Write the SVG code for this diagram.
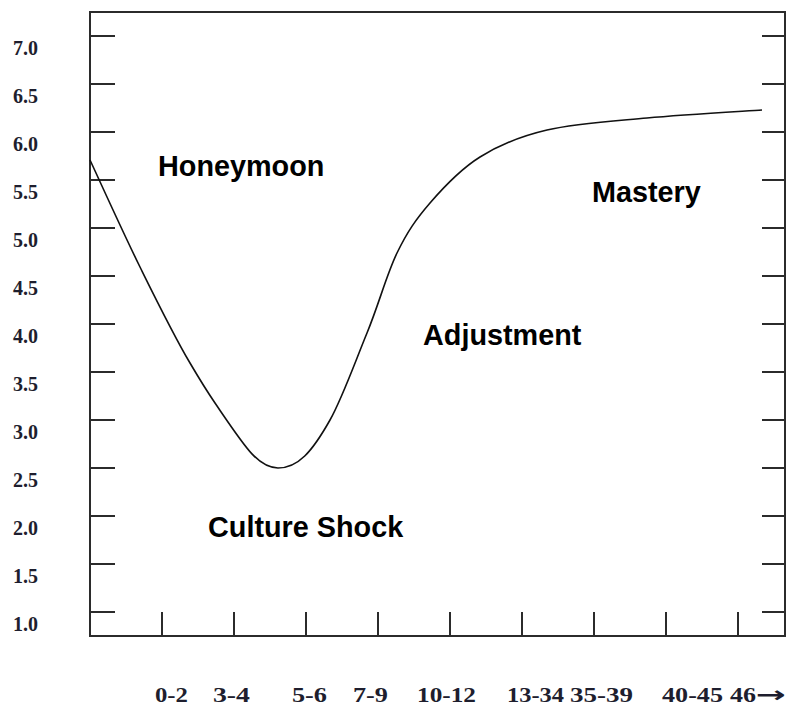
<svg xmlns="http://www.w3.org/2000/svg" width="787" height="706" viewBox="0 0 787 706">
<style>
.ax{stroke:#2b2b2b;stroke-width:2;fill:none}
.tk{stroke:#2b2b2b;stroke-width:2}
.num{font-family:"Liberation Serif","Times New Roman",serif;font-size:20px;font-weight:bold;fill:#1e1e2e}
.arr{font-family:"DejaVu Sans",sans-serif;font-weight:bold;font-size:22px}
.phase{font-family:"Liberation Sans",Arial,sans-serif;font-size:28.8px;font-weight:bold;fill:#000}
.curve{stroke:#111;stroke-width:1.6;fill:none}
</style>
<rect width="787" height="706" fill="#fff"/>
<g id="frame">
<rect class="ax" x="90" y="12" width="695" height="624"/>
</g>
<g id="left-ticks" class="tk">
<line x1="90" y1="36" x2="115" y2="36"/><line x1="90" y1="84" x2="115" y2="84"/><line x1="90" y1="132" x2="115" y2="132"/><line x1="90" y1="180" x2="115" y2="180"/><line x1="90" y1="228" x2="115" y2="228"/><line x1="90" y1="276" x2="115" y2="276"/><line x1="90" y1="324" x2="115" y2="324"/><line x1="90" y1="372" x2="115" y2="372"/><line x1="90" y1="420" x2="115" y2="420"/><line x1="90" y1="468" x2="115" y2="468"/><line x1="90" y1="516" x2="115" y2="516"/><line x1="90" y1="564" x2="115" y2="564"/><line x1="90" y1="612" x2="115" y2="612"/>
</g>
<g id="right-ticks" class="tk">
<line x1="762" y1="36" x2="785" y2="36"/><line x1="762" y1="84" x2="785" y2="84"/><line x1="762" y1="132" x2="785" y2="132"/><line x1="762" y1="180" x2="785" y2="180"/><line x1="762" y1="228" x2="785" y2="228"/><line x1="762" y1="276" x2="785" y2="276"/><line x1="762" y1="324" x2="785" y2="324"/><line x1="762" y1="372" x2="785" y2="372"/><line x1="762" y1="420" x2="785" y2="420"/><line x1="762" y1="468" x2="785" y2="468"/><line x1="762" y1="516" x2="785" y2="516"/><line x1="762" y1="564" x2="785" y2="564"/><line x1="762" y1="612" x2="785" y2="612"/>
</g>
<g id="bottom-ticks" class="tk">
<line x1="162" y1="612" x2="162" y2="636"/><line x1="234" y1="612" x2="234" y2="636"/><line x1="306" y1="612" x2="306" y2="636"/><line x1="378" y1="612" x2="378" y2="636"/><line x1="450" y1="612" x2="450" y2="636"/><line x1="522" y1="612" x2="522" y2="636"/><line x1="594" y1="612" x2="594" y2="636"/><line x1="666" y1="612" x2="666" y2="636"/><line x1="738" y1="612" x2="738" y2="636"/>
</g>
<g id="y-labels" class="num">
<text x="13" y="55">7.0</text><text x="13" y="103">6.5</text><text x="13" y="151">6.0</text><text x="13" y="199">5.5</text><text x="13" y="247">5.0</text><text x="13" y="295">4.5</text><text x="13" y="343">4.0</text><text x="13" y="391">3.5</text><text x="13" y="439">3.0</text><text x="13" y="487">2.5</text><text x="13" y="535">2.0</text><text x="13" y="583">1.5</text><text x="13" y="631">1.0</text>
</g>
<g id="x-labels" class="num">
<text x="155" y="702" textLength="33" lengthAdjust="spacingAndGlyphs">0-2</text>
<text x="213" y="702" textLength="37" lengthAdjust="spacingAndGlyphs">3-4</text>
<text x="292" y="702" textLength="35" lengthAdjust="spacingAndGlyphs">5-6</text>
<text x="353" y="702" textLength="35" lengthAdjust="spacingAndGlyphs">7-9</text>
<text x="417" y="702" textLength="59" lengthAdjust="spacingAndGlyphs">10-12</text>
<text x="507" y="702" textLength="57" lengthAdjust="spacingAndGlyphs">13-34</text>
<text x="570" y="702" textLength="63" lengthAdjust="spacingAndGlyphs">35-39</text>
<text x="662" y="702" textLength="61" lengthAdjust="spacingAndGlyphs">40-45</text>
<text y="702"><tspan x="730" textLength="26" lengthAdjust="spacingAndGlyphs">46</tspan><tspan class="arr" x="756" textLength="30" lengthAdjust="spacingAndGlyphs">→</tspan></text>
</g>
<g id="curve">
<path class="curve" d="M90,160 C98.3,177.8 123.3,233.2 140,267 C156.7,300.8 173.3,334.7 190,363 C200,380 205,388.3 215,403 C245,447 258,468 278,468 C298,468 312,452 330,420 C342,398.7 354.7,363 367,333 C379.3,303 386.5,274.7 397,253 C407.5,231.3 416.2,219 430,203 C443.8,187 460.5,169.2 480,157 C499.5,144.8 519.2,136.5 547,130 C574.8,123.5 611.2,121.3 647,118 C682.8,114.7 742.8,111.3 762,110"/>
</g>
<g id="honeymoon"><text class="phase" x="158" y="176">Honeymoon</text></g>
<g id="culture-shock"><text class="phase" x="208" y="537">Culture Shock</text></g>
<g id="adjustment"><text class="phase" x="423" y="345">Adjustment</text></g>
<g id="mastery"><text class="phase" x="592" y="202">Mastery</text></g>
</svg>
